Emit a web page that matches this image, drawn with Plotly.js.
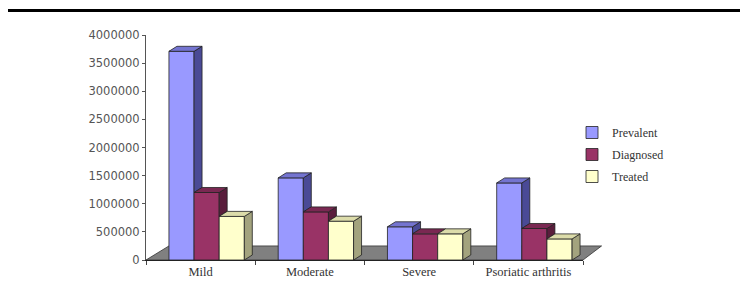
<!DOCTYPE html>
<html>
<head>
<meta charset="utf-8">
<script src="https://cdn.plot.ly/plotly-3.0.1.min.js"></script>
<style>html,body{margin:0;padding:0;background:#fff;}#chart{width:740px;height:304px;}</style>
</head>
<body>
<div id="chart"></div>
<script>
const categories = ["Mild", "Moderate", "Severe", "Psoriatic arthritis"];
const prevalent = [3710000, 1460000, 590000, 1370000];
const diagnosed = [1200000, 855000, 465000, 560000];
const treated   = [775000, 690000, 465000, 375000];
const seriesNames = ["Prevalent", "Diagnosed", "Treated"];
const yTicks = [0, 500000, 1000000, 1500000, 2000000, 2500000, 3000000, 3500000, 4000000];

const series = [prevalent, diagnosed, treated];
const frontCol = ["#9999ff", "#993366", "#ffffcc"];
const topCol   = ["#7474d0", "#7a2852", "#dcdcaa"];
const sideCol  = ["#4a4a96", "#5a1d3c", "#a3a37e"];
const edge = "#222";
const barW = 0.23, firstOff = -0.29;
const dX = 0.073, dY = 89000;   // depth of the 3D effect
const xIdx = categories.map((c, i) => i);
const xRange = [-0.5, 3.5], yRange = [0, 4000000];

const traces = [];
// front faces as real bar traces
series.forEach((vals, s) => {
  traces.push({
    type: "bar", name: seriesNames[s], x: xIdx, y: vals,
    width: barW, offset: firstOff + s * barW,
    marker: {color: frontCol[s], line: {color: edge, width: 0.8}},
    legendgroup: "g" + s, hoverinfo: "y"
  });
});
// top and side faces, painter's order
xIdx.forEach(i => {
  series.forEach((vals, s) => {
    const v = vals[i];
    const L = i + firstOff + s * barW, R = L + barW;
    const next = s < series.length - 1 ? series[s + 1][i] : 0;
    if (v > next) {
      traces.push({
        type: "scatter", mode: "lines", fill: "toself", fillcolor: sideCol[s],
        line: {color: edge, width: 0.8}, showlegend: false, hoverinfo: "skip",
        x: [R, R, R + dX, R + dX, R], y: [next, v, v + dY, next + dY, next]
      });
    }
    traces.push({
      type: "scatter", mode: "lines", fill: "toself", fillcolor: topCol[s],
      line: {color: edge, width: 0.8}, showlegend: false, hoverinfo: "skip",
      x: [L, L + dX, R + dX, R, L], y: [v, v + dY, v + dY, v, v]
    });
  });
});

const plotL = 146, plotR = 583, plotT = 35, plotB = 260;
const pw = plotR - plotL, ph = plotB - plotT;
// floor (paper coordinates so it may extend past the plot area)
const fx = v => (v - xRange[0]) / (xRange[1] - xRange[0]);
const floorDepthY = 250000 / (yRange[1] - yRange[0]);
const floorPath = "M 0,0 L " + fx(-0.29) + "," + floorDepthY +
  " L " + fx(3.67) + "," + floorDepthY + " L 1,0 Z";

const layout = {
  width: 740, height: 304,
  margin: {l: plotL, r: 740 - plotR, t: plotT, b: 304 - plotB},
  paper_bgcolor: "#fff", plot_bgcolor: "rgba(0,0,0,0)",
  barmode: "overlay",
  showlegend: true,
  legend: {
    x: (572 - plotL) / pw, y: (plotB - 118) / ph, xanchor: "left", yanchor: "top",
    font: {family: "Liberation Serif, serif", size: 12, color: "#333"},
    traceorder: "grouped", tracegroupgap: 3, bgcolor: "rgba(0,0,0,0)"
  },
  xaxis: {
    range: xRange, tickmode: "array", tickvals: xIdx, ticktext: categories,
    ticks: "", showgrid: false, zeroline: false, showline: true, linecolor: "#222", linewidth: 1,
    tickfont: {family: "Liberation Serif, serif", size: 12.5, color: "#333"},
    minor: {tickmode: "array", tickvals: [-0.5, 0.5, 1.5, 2.5, 3.5], ticks: "outside", ticklen: 4, tickcolor: "#444", showgrid: false},
    fixedrange: true
  },
  yaxis: {
    range: yRange, tickmode: "array", tickvals: yTicks, ticktext: yTicks.map(String),
    ticks: "outside", ticklen: 3, tickcolor: "#555", showgrid: false, zeroline: false,
    showline: true, linecolor: "#555", linewidth: 1,
    tickfont: {family: "DejaVu Sans, sans-serif", size: 11.5, color: "#555"},
    fixedrange: true
  },
  shapes: [
    {type: "path", xref: "paper", yref: "paper", layer: "below",
     path: floorPath, fillcolor: "#808080", line: {color: "#333", width: 0.8}},
    {type: "line", xref: "paper", yref: "paper",
     x0: (8 - plotL) / pw, x1: (740 - plotL) / pw,
     y0: (plotB - 10.5) / ph, y1: (plotB - 10.5) / ph,
     line: {color: "#000", width: 3}}
  ]
};
Plotly.newPlot("chart", traces, layout, {staticPlot: true, displayModeBar: false});
</script>
</body>
</html>
